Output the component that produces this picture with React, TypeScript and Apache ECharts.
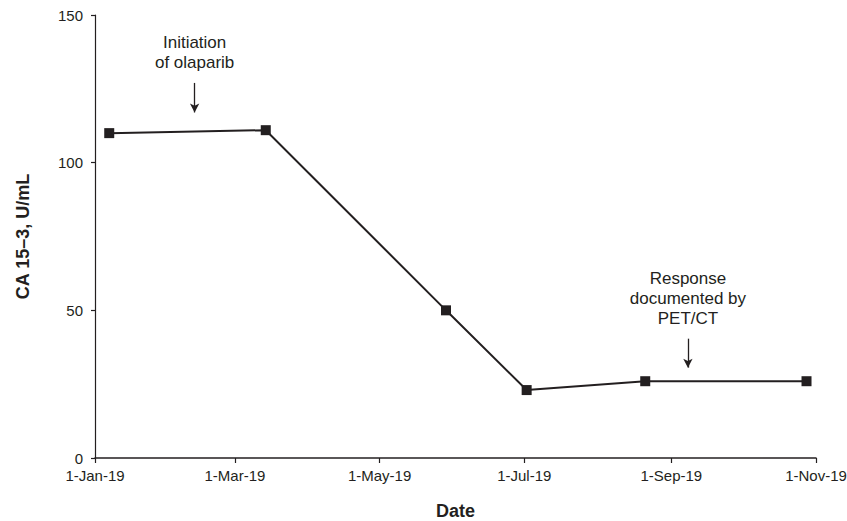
import React, { useEffect, useRef } from "react";
import * as echarts from "echarts";

const sampleDates = ["2019-01-07", "2019-03-14", "2019-05-29", "2019-07-02", "2019-08-21", "2019-10-28"];
const ca153Values = [110, 111, 50, 23, 26, 26];
const xTickDates = ["2019-01-01", "2019-03-01", "2019-05-01", "2019-07-01", "2019-09-01", "2019-11-01"];
const monthNames = ["Jan", "Feb", "Mar", "Apr", "May", "Jun", "Jul", "Aug", "Sep", "Oct", "Nov", "Dec"];
const yTicks = [0, 50, 100, 150];

const annotationTexts = ["Initiation\nof olaparib", "Response\ndocumented by\nPET/CT"];
const annotationDates = ["2019-02-12", "2019-09-08"];
const annotationTextValues = [137.3, 54];
const arrowFrom = [127, 40.4];
const arrowTo = [117, 30.6];

const FONT = '"Liberation Sans", Arial, Helvetica, sans-serif';
const INK = "#231f20";

function ts(s: string): number {
  const [y, m, d] = s.split("-").map(Number);
  return new Date(y, m - 1, d).getTime();
}

function fmtDate(v: number): string {
  const d = new Date(v);
  return `${d.getDate()}-${monthNames[d.getMonth()]}-${String(d.getFullYear()).slice(2)}`;
}

export default function App() {
  const ref = useRef<HTMLDivElement>(null);
  useEffect(() => {
    if (!ref.current) return;
    const chart = echarts.init(ref.current, null, { renderer: "svg" });
    const tickTs = xTickDates.map(ts);
    chart.setOption({
      animation: false,
      backgroundColor: "#ffffff",
      textStyle: { fontFamily: FONT },
      grid: { left: 95, right: 31, top: 15, bottom: 63, containLabel: false, outerBoundsMode: "none" },
      xAxis: {
        type: "value",
        min: tickTs[0],
        max: tickTs[tickTs.length - 1],
        name: "Date",
        nameLocation: "middle",
        nameGap: 44,
        nameTextStyle: { fontFamily: FONT, fontSize: 18, fontWeight: "bold", color: INK },
        axisLine: { show: true, lineStyle: { color: INK, width: 1.5 } },
        axisTick: { show: true, length: 5, lineStyle: { color: INK, width: 1.2 }, customValues: tickTs },
        axisLabel: {
          fontFamily: FONT,
          fontSize: 15,
          color: INK,
          margin: 10,
          customValues: tickTs,
          formatter: (v: number) => fmtDate(v),
          showMinLabel: true,
          showMaxLabel: true,
        },
        splitLine: { show: false },
      },
      yAxis: {
        type: "value",
        min: 0,
        max: 150,
        interval: 50,
        name: "CA 15\u20133, U/mL",
        nameLocation: "middle",
        nameGap: 63,
        nameRotate: 90,
        nameTextStyle: { fontFamily: FONT, fontSize: 18, fontWeight: "bold", color: INK },
        axisLine: { show: true, lineStyle: { color: INK, width: 1.2 } },
        axisTick: { show: true, length: 4, lineStyle: { color: INK, width: 1.2 } },
        axisLabel: {
          fontFamily: FONT,
          fontSize: 15,
          color: INK,
          margin: 12,
          formatter: (v: number) => (yTicks.includes(v) ? String(v) : ""),
        },
        splitLine: { show: false },
      },
      series: [
        {
          type: "line",
          data: sampleDates.map((d, i) => [ts(d), ca153Values[i]]),
          symbol: "rect",
          symbolSize: 10,
          showSymbol: true,
          lineStyle: { color: INK, width: 2 },
          itemStyle: { color: INK },
          silent: true,
          markLine: {
            silent: true,
            symbol: ["none", "arrow"],
            symbolSize: [7, 9],
            label: { show: false },
            lineStyle: { color: INK, width: 1.3, type: "solid" },
            data: annotationDates.map((d, i) => [
              { coord: [ts(d), arrowFrom[i]] },
              { coord: [ts(d), arrowTo[i]] },
            ]),
          },
          markPoint: {
            silent: true,
            symbol: "rect",
            symbolSize: 0,
            data: annotationDates.map((d, i) => ({
              coord: [ts(d), annotationTextValues[i]],
              label: {
                show: true,
                position: "inside",
                formatter: annotationTexts[i],
                fontFamily: FONT,
                fontSize: 17,
                lineHeight: 20,
                color: INK,
                align: "center",
                verticalAlign: "middle",
              },
            })),
          },
        },
      ],
    });
    return () => chart.dispose();
  }, []);
  return (
    <div
      ref={ref}
      style={{ position: "fixed", left: 0, top: 0, width: 847, height: 521, background: "#fff" }}
    />
  );
}
